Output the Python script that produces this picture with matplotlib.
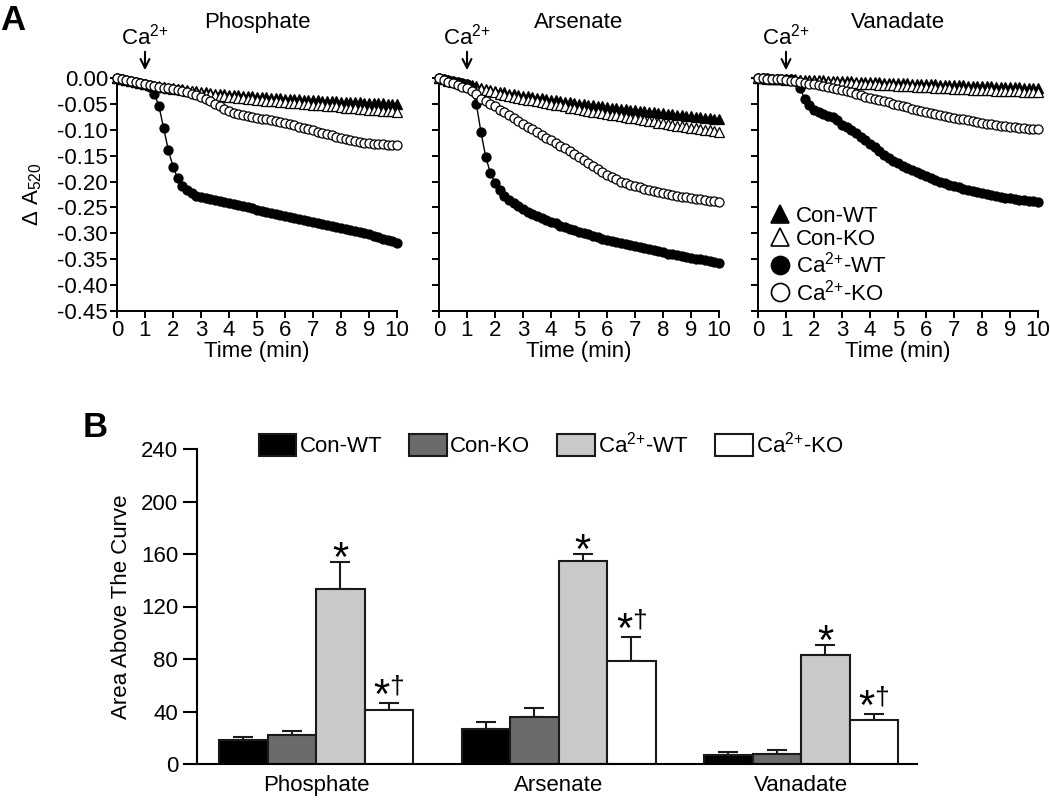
import numpy as np
import matplotlib
matplotlib.use("Agg")
import matplotlib.pyplot as plt
from matplotlib.lines import Line2D

plt.rcParams['font.family'] = ['Liberation Sans', 'DejaVu Sans']
plt.rcParams['mathtext.fontset'] = 'custom'
plt.rcParams['mathtext.rm'] = 'Liberation Sans'
plt.rcParams['mathtext.it'] = 'Liberation Sans:italic'
plt.rcParams['axes.unicode_minus'] = False

# ---- panel A: absorbance traces, one reading every 10 s over 10 min ----
time_min = np.arange(61) / 6.0

phos_con_wt = [0.000, -0.002, -0.004, -0.006, -0.008, -0.010,
               -0.012, -0.013, -0.015, -0.016, -0.017, -0.019,
               -0.020, -0.021, -0.022, -0.024, -0.025, -0.026,
               -0.027, -0.028, -0.029, -0.030, -0.030, -0.031,
               -0.032, -0.033, -0.033, -0.034, -0.035, -0.035,
               -0.036, -0.037, -0.037, -0.038, -0.039, -0.039,
               -0.040, -0.040, -0.041, -0.041, -0.042, -0.042,
               -0.043, -0.043, -0.044, -0.044, -0.045, -0.045,
               -0.046, -0.046, -0.047, -0.047, -0.047, -0.048,
               -0.048, -0.048, -0.049, -0.049, -0.050, -0.050,
               -0.050]
phos_con_ko = [0.000, -0.002, -0.004, -0.006, -0.008, -0.010,
               -0.012, -0.014, -0.015, -0.017, -0.018, -0.020,
               -0.021, -0.022, -0.024, -0.025, -0.026, -0.028,
               -0.029, -0.030, -0.031, -0.033, -0.034, -0.035,
               -0.036, -0.037, -0.038, -0.039, -0.040, -0.041,
               -0.042, -0.043, -0.044, -0.044, -0.045, -0.046,
               -0.047, -0.048, -0.049, -0.049, -0.050, -0.051,
               -0.052, -0.053, -0.053, -0.054, -0.055, -0.055,
               -0.056, -0.057, -0.058, -0.058, -0.059, -0.060,
               -0.061, -0.061, -0.062, -0.063, -0.064, -0.064,
               -0.065]
phos_ca_wt = [0.000, -0.002, -0.004, -0.006, -0.008, -0.010,
              -0.012, -0.017, -0.030, -0.055, -0.097, -0.139,
              -0.171, -0.194, -0.208, -0.217, -0.223, -0.227,
              -0.230, -0.232, -0.234, -0.236, -0.238, -0.240,
              -0.242, -0.244, -0.246, -0.248, -0.250, -0.252,
              -0.254, -0.256, -0.258, -0.260, -0.262, -0.264,
              -0.266, -0.268, -0.270, -0.272, -0.274, -0.276,
              -0.278, -0.280, -0.282, -0.284, -0.286, -0.288,
              -0.290, -0.292, -0.294, -0.296, -0.298, -0.300,
              -0.302, -0.305, -0.307, -0.310, -0.312, -0.315,
              -0.318]
phos_ca_ko = [0.000, -0.002, -0.004, -0.006, -0.008, -0.010,
              -0.012, -0.014, -0.015, -0.017, -0.019, -0.020,
              -0.022, -0.024, -0.026, -0.028, -0.031, -0.033,
              -0.036, -0.040, -0.045, -0.050, -0.055, -0.060,
              -0.064, -0.067, -0.070, -0.072, -0.074, -0.076,
              -0.077, -0.079, -0.080, -0.082, -0.084, -0.085,
              -0.087, -0.089, -0.091, -0.094, -0.096, -0.099,
              -0.101, -0.104, -0.106, -0.109, -0.111, -0.114,
              -0.116, -0.118, -0.120, -0.121, -0.123, -0.125,
              -0.126, -0.127, -0.128, -0.128, -0.129, -0.129,
              -0.129]

ars_con_wt = [0.000, -0.002, -0.004, -0.006, -0.008, -0.010,
              -0.012, -0.014, -0.016, -0.019, -0.021, -0.023,
              -0.025, -0.027, -0.028, -0.030, -0.031, -0.033,
              -0.034, -0.035, -0.037, -0.038, -0.039, -0.041,
              -0.042, -0.043, -0.045, -0.046, -0.047, -0.049,
              -0.050, -0.051, -0.052, -0.053, -0.054, -0.055,
              -0.056, -0.057, -0.058, -0.059, -0.060, -0.061,
              -0.062, -0.063, -0.064, -0.065, -0.066, -0.067,
              -0.068, -0.069, -0.070, -0.071, -0.072, -0.073,
              -0.074, -0.075, -0.076, -0.077, -0.078, -0.079,
              -0.080]
ars_con_ko = [0.000, -0.002, -0.005, -0.007, -0.009, -0.012,
              -0.014, -0.016, -0.019, -0.021, -0.023, -0.026,
              -0.028, -0.030, -0.032, -0.034, -0.036, -0.038,
              -0.040, -0.042, -0.043, -0.045, -0.047, -0.048,
              -0.050, -0.052, -0.053, -0.055, -0.057, -0.058,
              -0.060, -0.062, -0.063, -0.065, -0.066, -0.068,
              -0.069, -0.071, -0.072, -0.074, -0.075, -0.077,
              -0.078, -0.080, -0.081, -0.083, -0.084, -0.086,
              -0.087, -0.089, -0.090, -0.092, -0.093, -0.095,
              -0.096, -0.097, -0.099, -0.100, -0.101, -0.103,
              -0.104]
ars_ca_wt = [0.000, -0.002, -0.004, -0.006, -0.008, -0.010,
             -0.012, -0.018, -0.050, -0.105, -0.152, -0.183,
             -0.203, -0.217, -0.227, -0.235, -0.242, -0.248,
             -0.253, -0.258, -0.262, -0.266, -0.270, -0.274,
             -0.278, -0.281, -0.285, -0.288, -0.291, -0.294,
             -0.297, -0.300, -0.302, -0.305, -0.308, -0.310,
             -0.313, -0.315, -0.317, -0.319, -0.321, -0.323,
             -0.325, -0.327, -0.329, -0.331, -0.333, -0.335,
             -0.337, -0.339, -0.340, -0.342, -0.344, -0.345,
             -0.347, -0.349, -0.350, -0.352, -0.354, -0.355,
             -0.357]
ars_ca_ko = [0.000, -0.003, -0.007, -0.010, -0.013, -0.017,
             -0.020, -0.025, -0.031, -0.040, -0.045, -0.050,
             -0.055, -0.061, -0.066, -0.072, -0.077, -0.083,
             -0.089, -0.094, -0.099, -0.104, -0.110, -0.115,
             -0.120, -0.125, -0.131, -0.136, -0.141, -0.147,
             -0.152, -0.158, -0.164, -0.170, -0.176, -0.182,
             -0.187, -0.192, -0.196, -0.200, -0.203, -0.206,
             -0.209, -0.211, -0.214, -0.216, -0.218, -0.220,
             -0.222, -0.224, -0.226, -0.227, -0.229, -0.230,
             -0.232, -0.233, -0.234, -0.236, -0.237, -0.238,
             -0.239]

van_con_wt = [0.000, 0.000, 0.000, -0.001, -0.001, -0.001,
              -0.002, -0.002, -0.002, -0.003, -0.003, -0.003,
              -0.004, -0.004, -0.004, -0.005, -0.005, -0.005,
              -0.006, -0.006, -0.006, -0.007, -0.007, -0.007,
              -0.008, -0.008, -0.008, -0.009, -0.009, -0.009,
              -0.010, -0.010, -0.010, -0.011, -0.011, -0.011,
              -0.012, -0.012, -0.012, -0.013, -0.013, -0.013,
              -0.014, -0.014, -0.014, -0.015, -0.015, -0.015,
              -0.016, -0.016, -0.016, -0.017, -0.017, -0.017,
              -0.018, -0.018, -0.018, -0.019, -0.019, -0.019,
              -0.020]
van_con_ko = [0.000, 0.000, -0.001, -0.001, -0.002, -0.002,
              -0.003, -0.003, -0.004, -0.004, -0.005, -0.005,
              -0.006, -0.006, -0.007, -0.007, -0.008, -0.008,
              -0.009, -0.009, -0.010, -0.010, -0.011, -0.011,
              -0.012, -0.012, -0.013, -0.013, -0.014, -0.014,
              -0.015, -0.015, -0.016, -0.016, -0.017, -0.017,
              -0.018, -0.018, -0.019, -0.019, -0.020, -0.020,
              -0.021, -0.021, -0.022, -0.022, -0.023, -0.023,
              -0.024, -0.024, -0.024, -0.025, -0.025, -0.025,
              -0.026, -0.026, -0.026, -0.027, -0.027, -0.027,
              -0.027]
van_ca_wt = [0.000, 0.000, 0.000, -0.001, -0.001, -0.001,
             -0.002, -0.002, -0.006, -0.020, -0.040, -0.053,
             -0.062, -0.066, -0.069, -0.073, -0.076, -0.081,
             -0.090, -0.095, -0.101, -0.107, -0.114, -0.120,
             -0.127, -0.134, -0.141, -0.148, -0.154, -0.160,
             -0.165, -0.170, -0.174, -0.178, -0.182, -0.186,
             -0.190, -0.194, -0.197, -0.200, -0.203, -0.206,
             -0.209, -0.211, -0.214, -0.216, -0.218, -0.220,
             -0.222, -0.224, -0.226, -0.228, -0.229, -0.231,
             -0.232, -0.233, -0.235, -0.236, -0.237, -0.238,
             -0.239]
van_ca_ko = [0.000, 0.000, -0.001, -0.001, -0.002, -0.002,
             -0.003, -0.005, -0.006, -0.008, -0.009, -0.011,
             -0.012, -0.014, -0.016, -0.018, -0.019, -0.021,
             -0.023, -0.026, -0.028, -0.031, -0.033, -0.036,
             -0.038, -0.040, -0.043, -0.045, -0.047, -0.050,
             -0.052, -0.054, -0.056, -0.059, -0.061, -0.063,
             -0.065, -0.067, -0.069, -0.071, -0.073, -0.075,
             -0.077, -0.079, -0.080, -0.082, -0.084, -0.085,
             -0.087, -0.088, -0.089, -0.091, -0.092, -0.093,
             -0.094, -0.095, -0.096, -0.097, -0.098, -0.098,
             -0.099]

group_labels = ['Con-WT', 'Con-KO', 'Ca$^{2{+}}$-WT', 'Ca$^{2{+}}$-KO']
anions = ['Phosphate', 'Arsenate', 'Vanadate']

# ---- panel B: area above the curve (mean, SEM) ----
auc_con_wt = [18.5, 26.9, 6.6]
auc_con_ko = [21.8, 35.8, 7.8]
auc_ca_wt = [133.3, 154.4, 82.7]
auc_ca_ko = [41.4, 78.2, 33.2]
sem_con_wt = [2.1, 5.1, 2.5]
sem_con_ko = [3.6, 6.9, 3.1]
sem_ca_wt = [20.6, 5.8, 8.2]
sem_ca_ko = [5.1, 18.6, 4.9]

FS = 16

fig = plt.figure(figsize=(10.5, 8), dpi=100)

styles = [dict(marker='^', mfc='black'),
          dict(marker='^', mfc='white'),
          dict(marker='o', mfc='black'),
          dict(marker='o', mfc='white')]

traces = [(phos_con_wt, phos_con_ko, phos_ca_wt, phos_ca_ko),
          (ars_con_wt, ars_con_ko, ars_ca_wt, ars_ca_ko),
          (van_con_wt, van_con_ko, van_ca_wt, van_ca_ko)]
lefts = [117, 439, 758]


def fmt_abs(v, pos):
    if abs(v) < 1e-9:
        v = 0.0
    return '%.2f' % v


axes_a = []
for i in range(3):
    ax = fig.add_axes([lefts[i] / 1050, 1 - 311 / 800, 280 / 1050, 233 / 800])
    axes_a.append(ax)
    for j in [3, 1, 0, 2]:
        st = styles[j]
        ax.plot(time_min, traces[i][j], color='black', lw=1.0, marker=st['marker'],
                mfc=st['mfc'], mec='black', mew=0.9, ms=6.5, clip_on=False, zorder=3 + j)
    ax.set_xlim(0, 10)
    ax.set_ylim(-0.45, 0.0)
    ax.set_xticks(range(11))
    ax.set_yticks(np.arange(-0.45, 0.001, 0.05))
    ax.spines['top'].set_visible(False)
    ax.spines['right'].set_visible(False)
    for s in ['left', 'bottom']:
        ax.spines[s].set_linewidth(1.4)
    ax.tick_params(direction='out', length=5, width=1.4, labelsize=FS, pad=1.5)
    ax.set_xlabel('Time (min)', fontsize=FS, labelpad=0)
    ax.set_title(anions[i], fontsize=FS, pad=36)
    if i == 0:
        ax.yaxis.set_major_formatter(plt.FuncFormatter(fmt_abs))
        ax.set_ylabel('Δ A$_{520}$', fontsize=FS)
        ax.yaxis.set_label_coords(-0.26, 0.5)
    else:
        ax.set_yticklabels([])
    ax.annotate('Ca$^{2{+}}$', xy=(1, 0.015), xytext=(1, 0.056), ha='center', va='bottom',
                fontsize=FS, annotation_clip=False,
                arrowprops=dict(arrowstyle='->', lw=1.5, color='black',
                                shrinkA=0, shrinkB=0, mutation_scale=16))

leg_handles = [Line2D([], [], ls='none', marker=st['marker'], mfc=st['mfc'], mec='black',
                      mew=1.2, ms=13) for st in styles]
axes_a[2].legend(leg_handles, group_labels, loc='lower left', bbox_to_anchor=(0.04, 0.025),
                 frameon=False, fontsize=FS, handlelength=1.0, handletextpad=0.2,
                 labelspacing=0.08, borderpad=0, borderaxespad=0)

fig.text(0.0, 0.995, 'A', fontsize=25, fontweight='bold', ha='left', va='top')
fig.text(83 / 1050, 1 - 411 / 800, 'B', fontsize=25, fontweight='bold', ha='left', va='top')

# ---- panel B ----
axb = fig.add_axes([197 / 1050, 1 - 764 / 800, 720 / 1050, 315 / 800])
x = np.arange(3)
w = 0.2
means = [auc_con_wt, auc_con_ko, auc_ca_wt, auc_ca_ko]
sems = [sem_con_wt, sem_con_ko, sem_ca_wt, sem_ca_ko]
colors = ['black', '#6b6b6b', '#c9c9c9', 'white']
bars = []
for j in range(4):
    pos = x + (j - 1.5) * w
    b = axb.bar(pos, means[j], w, color=colors[j], edgecolor='#1a1a1a', lw=1.5,
                label=group_labels[j], zorder=2)
    bars.append(b)
    axb.errorbar(pos, means[j], yerr=[np.zeros(3), sems[j]], fmt='none', ecolor='#1a1a1a',
                 elinewidth=1.5, capsize=7, capthick=1.5, zorder=1)

for k in range(3):
    top_wt = auc_ca_wt[k] + sem_ca_wt[k]
    axb.text(x[k] + 0.5 * w, top_wt - 7, '*', fontsize=30, ha='center', va='baseline')
    top_ko = auc_ca_ko[k] + sem_ca_ko[k]
    axb.text(x[k] + 1.5 * w - 0.03, top_ko - 4, '*', fontsize=30, ha='center', va='baseline')
    axb.text(x[k] + 1.5 * w + 0.032, top_ko + 7, '†', fontsize=19, ha='center', va='baseline')

axb.set_xlim(-0.491, 2.478)
axb.set_ylim(0, 240)
axb.set_yticks(range(0, 241, 40))
axb.set_xticks(x)
axb.set_xticklabels(anions)
axb.spines['top'].set_visible(False)
axb.spines['right'].set_visible(False)
for s in ['left', 'bottom']:
    axb.spines[s].set_linewidth(1.5)
axb.tick_params(axis='y', direction='out', length=10, width=1.5, labelsize=FS, pad=3.5)
axb.tick_params(axis='x', length=0, labelsize=FS, pad=8)
axb.set_ylabel('Area Above The Curve', fontsize=FS)
axb.yaxis.set_label_coords(-0.09, 0.5)

axb.legend(handles=bars, labels=group_labels, ncol=4, loc='center',
           bbox_to_anchor=(0.525, 1 - 444.5 / 800), bbox_transform=fig.transFigure,
           frameon=False, fontsize=FS, handlelength=1.7, handleheight=1.15,
           handletextpad=0.15, columnspacing=1.2, borderpad=0)

fig.savefig('out.png', dpi=100)
